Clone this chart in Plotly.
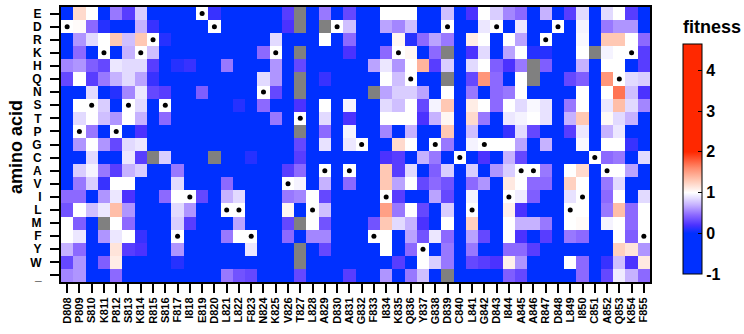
import plotly.graph_objects as go

positions = ["D808","P809","S810","K811","P812","S813","K814","R815","S816","F817","I818","E819",
             "D820","L821","L822","F823","N824","K825","V826","T827","L828","A829","D830","A831",
             "G832","F833","I834","K835","Q836","Y837","G838","D839","C840","L841","G842","D843",
             "I844","A845","A846","R847","D848","L849","I850","C851","A852","Q853","K854","F855"]
amino_acids = ["E","D","R","K","H","Q","N","S","T","P","G","C","A","V","I","L","M","F","Y","W","_"]
cbar_ticks = [-1, 0, 1, 2, 3, 4]
cbar_ticktext = ["-1", "0", "1", "2", "3", "4"]

row_E = [-0.5, 1.2, 1.0, -0.5, 0.5, 0.25, 0.8, -0.5, -0.5, -0.5, -0.5, 1.0,
         0.15, -0.5, -0.5, -0.5, -0.5, -0.5, 0.25, None, -0.5, 0.5, -0.5, 0.3,
         -0.5, -0.5, 1.0, 1.0, 1.0, -0.5, -0.5, 0.75, -0.5, 0.2, 1.0, 0.8,
         0.55, 0.45, -0.5, 0.7, -0.5, 0.25, 0.85, -0.5, 0.85, 1.0, 0.25, -0.5]
row_D = [1.0, 1.02, 0.45, 0.1, -0.5, -0.5, 0.7, 0.15, -0.5, -0.5, -0.5, -0.5,
         1.0, -0.5, -0.5, -0.5, -0.5, -0.5, 0.2, None, -0.5, None, 1.0, 0.75,
         -0.5, -0.5, 0.65, 0.55, 0.75, -0.5, -0.5, 1.0, -0.5, -0.5, 0.9, 1.0,
         -0.5, 0.9, -0.5, -0.5, 1.0, -0.5, 0.95, -0.5, 0.5, 0.6, 0.6, -0.5]
row_R = [-0.5, 0.6, 0.85, 1.0, 1.3, 0.75, 1.3, 1.0, 0.1, -0.5, -0.5, -0.5,
         -0.5, -0.5, -0.5, -0.5, -0.5, 0.85, -0.5, -0.5, -0.5, 1.0, -0.5, 0.45,
         -0.5, -0.5, -0.5, 1.05, 0.1, 0.45, 0.65, 0.5, -0.5, 1.1, 1.0, -0.5,
         1.0, 0.65, -0.5, 1.0, -0.5, -0.5, 0.97, -0.5, 1.3, 1.3, 1.0, 0.45]
row_K = [-0.5, 0.45, -0.5, 1.0, -0.5, 0.7, 1.0, 0.75, -0.5, -0.5, -0.5, -0.5,
         -0.5, -0.5, -0.5, -0.5, 0.45, 1.0, -0.5, None, -0.5, -0.5, -0.5, 0.2,
         -0.5, -0.5, 0.45, 1.0, 1.05, -0.5, 0.45, None, -0.5, 0.2, 0.85, -0.5,
         0.65, 1.0, 0.1, 0.1, -0.5, -0.5, 1.0, None, 0.95, 1.0, 1.0, 0.25]
row_H = [0.55, 0.6, 0.4, 0.3, 0.9, 0.85, 0.85, 0.25, -0.5, 0.1, 0.15, -0.5,
         -0.5, 0.5, -0.5, -0.5, -0.5, 0.6, -0.5, 0.3, -0.5, -0.5, -0.5, -0.5,
         -0.5, 0.65, 0.9, 0.6, 1.0, 1.4, 0.25, 0.8, -0.5, 0.85, 1.0, 0.4,
         0.2, 0.5, None, 0.4, -0.5, -0.5, 0.7, -0.5, 1.0, 1.0, -0.5, 0.25]
row_Q = [0.3, 1.0, 0.25, 0.5, 0.7, 0.85, 0.65, 0.15, -0.5, -0.5, -0.5, -0.5,
         -0.5, -0.5, -0.5, -0.5, 0.85, 0.6, -0.5, None, -0.5, 0.15, -0.5, -0.5,
         -0.5, -0.5, 1.0, 0.75, 1.0, -0.5, -0.5, None, -0.5, 0.3, 1.55, 0.45,
         -0.5, 1.0, None, -0.5, -0.5, 0.3, 0.4, -0.5, 1.55, 1.0, 0.85, 0.8]
row_N = [-0.5, -0.5, 0.85, -0.5, 0.1, 0.55, 0.9, 0.3, 0.25, -0.5, -0.5, 0.4,
         -0.5, -0.5, -0.5, -0.5, 1.0, 0.3, -0.5, None, -0.5, -0.5, -0.5, -0.5,
         -0.5, None, 0.65, 0.8, 0.8, 0.65, -0.5, 1.0, -0.5, 0.5, -0.5, 0.45,
         0.5, 1.0, -0.5, -0.5, -0.5, -0.5, 1.0, -0.5, 1.0, 1.7, 0.75, 0.2]
row_S = [-0.5, 1.0, 1.0, 0.8, -0.5, 1.0, 0.85, -0.5, 1.0, -0.5, -0.5, -0.5,
         -0.5, -0.5, 0.1, -0.5, 0.45, -0.5, -0.5, 0.2, -0.5, 1.0, -0.5, 0.95,
         -0.5, -0.5, 0.85, 0.75, 1.0, 0.3, 0.95, 1.3, -0.5, 1.1, 1.0, 0.45,
         1.0, 0.85, 0.97, 0.88, -0.5, 0.5, 1.0, -0.5, 0.9, 1.35, 0.85, 0.55]
row_T = [-0.5, 0.85, 1.0, 0.75, 0.6, 1.0, 0.7, -0.5, 0.45, -0.5, -0.5, -0.5,
         -0.5, -0.5, -0.5, -0.5, -0.5, 0.5, -0.5, 1.0, -0.5, 0.85, -0.5, 0.2,
         -0.5, -0.5, 1.0, 1.0, 1.0, 0.2, 0.7, 1.05, -0.5, 1.2, 0.5, -0.5,
         0.9, 0.95, 1.0, 0.88, -0.5, 0.7, 1.3, -0.5, 1.03, 0.85, 0.7, -0.5]
row_P = [-0.5, 1.0, 0.5, -0.5, 1.0, -0.5, 0.2, -0.5, -0.5, -0.5, -0.5, -0.5,
         -0.5, -0.5, -0.5, -0.5, -0.5, -0.5, -0.5, None, -0.5, 0.45, -0.5, 0.95,
         -0.5, -0.5, 0.55, -0.5, 0.7, -0.5, -0.5, 1.3, -0.5, 0.75, -0.5, -0.5,
         0.15, 0.85, 0.3, -0.5, -0.5, 0.25, 0.9, -0.5, 0.7, 0.9, -0.5, -0.5]
row_G = [-0.5, 0.6, 1.0, 0.6, 0.3, 0.85, 0.9, -0.5, -0.5, -0.5, -0.5, -0.5,
         -0.5, -0.5, -0.5, -0.5, -0.5, -0.5, -0.5, 0.3, -0.5, 0.88, -0.5, 0.9,
         1.0, -0.5, -0.5, 1.2, 1.0, -0.5, 1.0, 0.5, -0.5, 0.95, 1.0, 1.0,
         1.0, 0.65, -0.5, 0.7, -0.5, -0.5, 0.97, -0.5, 1.0, 1.0, 0.15, -0.5]
row_C = [-0.5, -0.5, 0.85, -0.5, -0.5, 0.9, 0.25, None, 0.8, -0.5, -0.5, -0.5,
         None, -0.5, -0.5, 0.1, -0.5, -0.5, -0.5, 0.25, -0.5, -0.5, -0.5, -0.5,
         -0.5, -0.5, 0.2, 0.25, -0.5, 0.7, 0.5, -0.5, 1.0, -0.5, 0.2, -0.5,
         0.7, 0.3, -0.5, -0.5, -0.5, -0.5, -0.5, 1.0, 0.45, 0.5, -0.5, 0.85]
row_A = [-0.5, 0.8, 0.95, 0.5, 0.25, 0.7, 0.8, -0.5, -0.5, 0.5, -0.5, -0.5,
         -0.5, -0.5, -0.5, -0.5, -0.5, -0.5, 0.25, 0.45, -0.5, 1.0, -0.5, 1.0,
         -0.5, -0.5, 1.3, 0.25, 0.85, -0.5, 0.4, 0.8, -0.5, 0.8, -0.5, 0.6,
         0.8, 1.0, 1.0, 0.5, -0.5, 1.0, 1.2, -0.5, 1.0, 1.0, 0.65, -0.5]
row_V = [-0.5, 0.5, 0.8, 0.15, 1.0, 1.0, -0.5, -0.5, -0.5, 0.85, -0.5, -0.5,
         -0.5, 0.45, -0.5, -0.5, -0.5, -0.5, 1.0, 0.95, -0.5, 0.7, -0.5, 0.45,
         -0.5, -0.5, 1.3, 0.65, 1.0, 0.3, 0.45, 0.35, -0.5, 0.45, 0.6, -0.5,
         1.12, 1.0, 0.45, 0.45, -0.5, 1.25, 1.0, -0.5, 0.5, 0.85, -0.5, -0.5]
row_I = [0.45, 0.45, -0.5, 0.6, 0.9, 0.2, -0.5, -0.5, 0.45, 1.0, 1.0, 0.3,
         -0.5, 0.7, 0.85, -0.5, -0.5, -0.5, 0.5, 0.55, 1.0, 0.3, -0.5, -0.5,
         -0.5, -0.5, 1.0, 0.25, -0.5, -0.5, 0.65, 0.3, -0.5, 0.95, -0.5, -0.5,
         1.0, 0.92, 0.4, -0.5, -0.5, 0.88, 1.0, -0.5, 0.45, 1.0, -0.5, 0.85]
row_L = [0.35, 1.0, 0.75, 0.9, 1.35, 0.6, -0.5, -0.5, -0.5, 0.85, 0.6, -0.5,
         -0.5, 1.0, 1.0, -0.5, -0.5, -0.5, 1.05, -0.5, 1.0, 0.75, -0.5, -0.5,
         -0.5, -0.5, 1.5, 0.5, 1.0, 0.3, -0.5, 0.8, -0.5, 1.0, -0.5, -0.5,
         1.08, 0.2, -0.5, -0.5, -0.5, 1.0, 1.0, -0.5, 0.5, 1.35, 0.45, 1.0]
row_M = [1.0, 0.4, -0.5, None, 1.0, 0.45, -0.5, -0.5, -0.5, 0.8, 0.25, -0.5,
         -0.5, -0.5, 0.65, -0.5, -0.5, -0.5, 0.3, None, 1.0, 0.35, -0.5, -0.5,
         -0.5, 0.35, 1.3, 0.85, 0.7, 0.2, -0.5, 1.0, -0.5, 1.25, -0.5, -0.5,
         1.0, 0.7, 0.7, 0.5, -0.5, 1.0, 1.03, -0.5, 0.95, 1.0, 0.45, 1.0]
row_F = [1.0, 0.9, -0.5, 0.6, 0.9, 1.0, 0.15, -0.5, -0.5, 1.0, -0.5, -0.5,
         -0.5, 0.5, 1.0, 1.0, -0.5, -0.5, 0.45, -0.5, 0.55, 0.55, -0.5, -0.5,
         -0.5, 1.0, 1.0, -0.5, 0.65, 0.35, 0.9, 0.45, -0.5, 0.65, 0.3, -0.5,
         1.0, 0.2, -0.5, 0.25, -0.5, 0.5, 0.45, -0.5, -0.5, 1.0, 0.4, 1.0]
row_Y = [0.7, 0.45, -0.5, -0.5, 1.15, 0.25, 0.2, -0.5, -0.5, 0.6, -0.5, -0.5,
         -0.5, -0.5, -0.5, 0.9, -0.5, -0.5, -0.5, None, -0.5, 0.3, -0.5, -0.5,
         -0.5, -0.5, 1.0, -0.5, 0.45, 1.0, -0.5, 0.5, -0.5, 0.5, -0.5, -0.5,
         0.45, 0.45, 0.25, -0.5, -0.5, -0.5, -0.5, -0.5, -0.5, 1.25, 1.15, 0.6]
row_W = [0.3, 0.6, -0.5, 0.4, 1.1, -0.5, -0.5, -0.5, -0.5, 0.1, -0.5, -0.5,
         -0.5, -0.5, -0.5, -0.5, -0.5, -0.5, -0.5, None, -0.5, -0.5, -0.5, -0.5,
         -0.5, -0.5, -0.5, 0.25, -0.5, 1.0, 0.8, 0.5, -0.5, 0.3, 0.25, 0.2,
         1.08, 0.6, -0.5, -0.5, -0.5, 1.0, 0.45, -0.5, 0.15, 0.75, 0.2, 1.12]
row_stop = [0.55, 0.6, -0.5, -0.5, 0.45, -0.5, -0.5, -0.5, -0.5, -0.5, -0.5, -0.5,
            -0.5, 0.5, 0.35, 0.3, -0.5, -0.5, -0.5, 0.3, -0.5, -0.5, -0.5, 0.25,
            -0.5, -0.5, 0.6, -0.5, 0.5, 0.75, -0.5, None, -0.5, -0.5, -0.5, -0.5,
            0.4, 0.3, -0.5, -0.5, -0.5, -0.5, 0.45, -0.5, 0.3, 0.92, 0.7, 0.45]

z = [row_E, row_D, row_R, row_K, row_H, row_Q, row_N, row_S, row_T, row_P, row_G,
     row_C, row_A, row_V, row_I, row_L, row_M, row_F, row_Y, row_W, row_stop]
for r in z:
    assert len(r) == len(positions), len(r)

wt_x = positions
wt_y = [p[0] for p in positions]

ZMIN, ZMAX = -1.0, 4.65
def nv(v):
    return (v - ZMIN) / (ZMAX - ZMIN)

BLUE = "rgb(0,48,255)"
RED = "rgb(255,40,0)"
colorscale = [
    [0.0, BLUE], [nv(0.0), BLUE],
    [nv(0.2), "rgb(75,50,255)"],
    [nv(0.45), "rgb(140,105,255)"],
    [nv(0.7), "rgb(198,178,255)"],
    [nv(0.88), "rgb(232,226,255)"],
    [nv(1.0), "rgb(255,255,255)"],
    [nv(1.3), "rgb(255,200,180)"],
    [nv(1.6), "rgb(255,140,110)"],
    [nv(2.0), RED], [1.0, RED],
]

FONT = "Liberation Sans, Arial, sans-serif"
L, R, T, B = 61, 94, 5, 52
PW, PH = 744 - L - R, 334 - T - B

fig = go.Figure()
fig.add_trace(go.Heatmap(
    x=positions, y=amino_acids, z=z,
    zmin=ZMIN, zmax=ZMAX, colorscale=colorscale,
    xgap=0, ygap=0, hoverongaps=False,
    colorbar=dict(
        thickness=19, thicknessmode="pixels",
        len=230, lenmode="pixels",
        x=(683 - L) / PW, xanchor="left", xpad=0,
        y=1 - (158 - T) / PH, yanchor="middle", ypad=0,
        outlinewidth=1, outlinecolor="black",
        tickmode="array", tickvals=cbar_ticks, ticktext=cbar_ticktext,
        ticks="inside", ticklen=4, tickcolor="black", tickwidth=1,
        tickfont=dict(family=FONT, size=16, color="black", weight="bold"),
    ),
))
fig.add_trace(go.Scatter(
    x=wt_x, y=wt_y, mode="markers",
    marker=dict(color="black", size=5),
    showlegend=False, hoverinfo="skip",
))

fig.update_layout(
    width=744, height=334,
    margin=dict(l=L, r=R, t=T, b=B),
    paper_bgcolor="white", plot_bgcolor="rgb(128,128,128)",
    font=dict(family=FONT, color="black"),
    showlegend=False,
    annotations=[
        dict(text="amino acid", xref="paper", yref="paper",
             x=(16 - L) / PW, y=1 - (146 - T) / PH, xanchor="center", yanchor="middle",
             textangle=-90, showarrow=False,
             font=dict(family=FONT, size=18, color="black", weight="bold")),
        dict(text="fitness", xref="paper", yref="paper",
             x=(683 - L) / PW, y=1 - (25 - T) / PH, xanchor="left", yanchor="middle",
             showarrow=False, xshift=-2,
             font=dict(family=FONT, size=18, color="black", weight="bold")),
    ],
)
fig.update_xaxes(
    type="category", categoryorder="array", categoryarray=positions,
    range=[-0.5, len(positions) - 0.5],
    tickmode="array", tickvals=positions, ticktext=positions,
    tickangle=-90, tickfont=dict(family=FONT, size=11, color="black", weight="bold"),
    ticks="outside", ticklen=9, tickwidth=2, tickcolor="black",
    showline=True, linewidth=2, linecolor="black", mirror=True,
    showgrid=False, zeroline=False,
)
fig.update_yaxes(
    type="category", categoryorder="array", categoryarray=amino_acids,
    range=[len(amino_acids) - 0.5, -0.5],
    tickmode="array", tickvals=amino_acids, ticktext=amino_acids,
    tickfont=dict(family=FONT, size=12, color="black", weight="bold"),
    ticks="outside", ticklen=9, tickwidth=2, tickcolor="black",
    ticklabelstandoff=6,
    showline=True, linewidth=2, linecolor="black", mirror=True,
    showgrid=False, zeroline=False,
)

fig.write_html("out.html", config={"displayModeBar": False},
               post_script="document.body.style.margin='0px';")
